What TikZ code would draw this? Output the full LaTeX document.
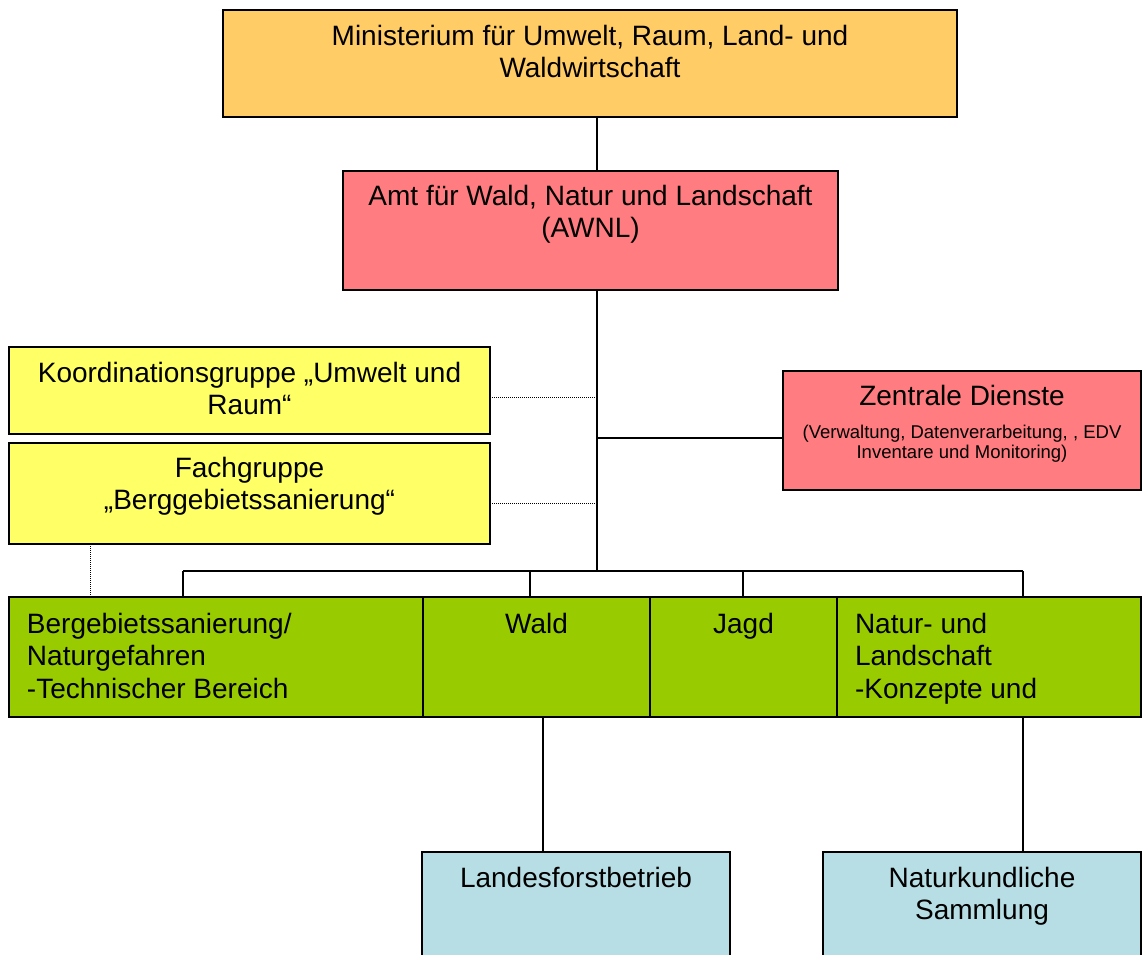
\documentclass[tikz,border=0pt]{standalone}
\usepackage{fontspec}
\setmainfont{Liberation Sans}
\usetikzlibrary{calc}
\definecolor{cmin}{RGB}{255,204,102}
\definecolor{camt}{RGB}{255,124,128}
\definecolor{cyel}{RGB}{255,255,102}
\definecolor{cgrn}{RGB}{153,204,0}
\definecolor{cblu}{RGB}{183,222,228}
\newcommand{\cbox}[4]{\parbox[c][#2][t]{#1}{\centering\rule{0pt}{#3}#4\par}}
\newcommand{\lbox}[4]{\parbox[c][#2][t]{#1}{\raggedright\leftskip=18pt\rule{0pt}{#3}#4\par}}
\begin{document}
\begin{tikzpicture}[x=1pt,y=-1pt,
  font=\fontsize{28}{32.5}\selectfont,
  orgbox/.style={draw=black,line width=1.8pt,inner sep=0pt,outer sep=0pt,anchor=north west},
  conn/.style={draw=black,line width=1.4pt},
  dotconn/.style={draw=black,line width=1pt,dash pattern=on 1pt off 1pt}]
\useasboundingbox (0,0) rectangle (1143,954);

% boxes
\node[orgbox,fill=cmin] (min) at (223,10) {\cbox{734pt}{107pt}{35pt}{Ministerium für Umwelt, Raum, Land- und\\Waldwirtschaft}};
\node[orgbox,fill=camt] (awnl) at (343,171) {\cbox{495pt}{119pt}{34pt}{Amt für Wald, Natur und Landschaft\\(AWNL)}};
\node[orgbox,fill=cyel] (koord) at (9,347) {\cbox{481pt}{87pt}{35pt}{Koordinationsgruppe „Umwelt und\\Raum“}};
\node[orgbox,fill=cyel] (fach) at (9,443) {\cbox{481pt}{101pt}{34pt}{Fachgruppe\\„Berggebietssanierung“}};
\node[orgbox,fill=camt] (zd) at (783,371) {\parbox[c][119pt][t]{358pt}{\centering\rule{0pt}{34pt}Zentrale Dienste\par\vspace{13pt}{\fontsize{18.5}{20}\selectfont (Verwaltung, Datenverarbeitung, , EDV\\Inventare und Monitoring)\par}}};

\node[orgbox,fill=cgrn] (berg) at (9,597) {\lbox{414pt}{120pt}{36pt}{Bergebietssanierung/\\Naturgefahren\\-Technischer Bereich}};
\node[orgbox,fill=cgrn] (wald) at (423,597) {\cbox{227pt}{120pt}{36pt}{Wald}};
\node[orgbox,fill=cgrn] (jagd) at (650,597) {\cbox{187pt}{120pt}{36pt}{Jagd}};
\node[orgbox,fill=cgrn] (natur) at (837,597) {\lbox{304pt}{120pt}{36pt}{Natur- und\\Landschaft\\-Konzepte und}};

\node[orgbox,fill=cblu] (lfb) at (422,852) {\cbox{308pt}{160pt}{35pt}{Landesforstbetrieb}};
\node[orgbox,fill=cblu] (nks) at (823,852) {\cbox{318pt}{160pt}{35pt}{Naturkundliche\\Sammlung}};

% coordinates of the bus and connector ends
\coordinate (spine) at (597,571);
\coordinate (d1) at (183,571);
\coordinate (d2) at (530,571);
\coordinate (d3) at (743,571);
\coordinate (d4) at (1023,571);
\coordinate (zdin) at ([yshift=-7.5pt]zd.west);
\coordinate (kout) at ([yshift=-6.5pt]koord.east);
\coordinate (fout) at ([yshift=-10pt]fach.east);
\coordinate (fdown) at ([xshift=81pt]fach.south west);
\coordinate (wdown) at (543,717);

% connectors
\draw[conn] (min.south -| spine) -- (awnl.north -| spine);
\draw[conn] (awnl.south -| spine) -- (spine);
\draw[conn] (d1) -- (d4);
\draw[conn] (d1) -- (berg.north -| d1);
\draw[conn] (d2) -- (wald.north -| d2);
\draw[conn] (d3) -- (jagd.north -| d3);
\draw[conn] (d4) -- (natur.north -| d4);
\draw[conn] (spine |- zdin) -- (zdin);
\draw[dotconn] (kout) -- (spine |- kout);
\draw[dotconn] (fout) -- (spine |- fout);
\draw[dotconn] (fdown) -- (berg.north -| fdown);
\draw[conn] (wald.south -| wdown) -- (lfb.north -| wdown);
\draw[conn] (natur.south -| d4) -- (nks.north -| d4);
\end{tikzpicture}
\end{document}
